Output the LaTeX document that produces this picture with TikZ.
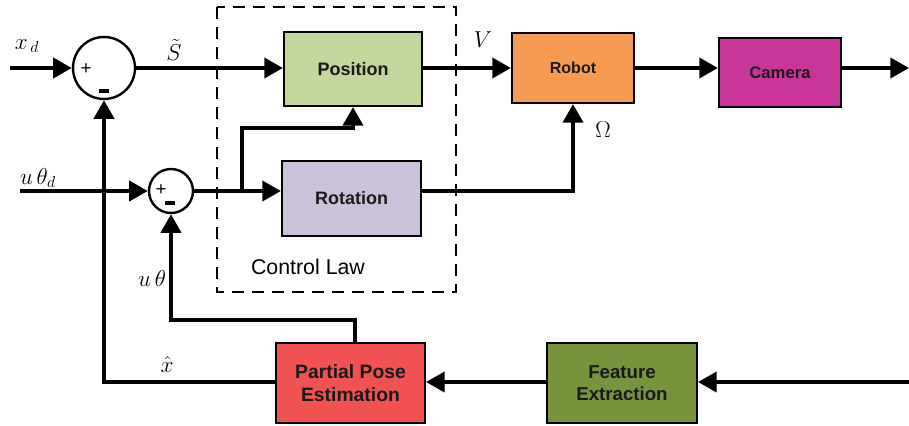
\documentclass[tikz,border=0pt]{standalone}
\usepackage{fontspec}
\setmainfont{Liberation Sans}
\usetikzlibrary{arrows.meta,calc}
\definecolor{posfill}{HTML}{C3D69B}
\definecolor{rotfill}{HTML}{CCC1DA}
\definecolor{robfill}{HTML}{F79B52}
\definecolor{camfill}{HTML}{C9359A}
\definecolor{ppefill}{HTML}{F05252}
\definecolor{feafill}{HTML}{77933C}
\definecolor{boxtext}{HTML}{1A1A1A}
\newcommand{\minussign}{\rule{7.5pt}{2.8pt}}
\tikzset{
  blockbox/.style={draw=black, line width=1.6pt, text=boxtext, font=\bfseries,
    align=center, inner sep=0pt},
  sumnode/.style={draw=black, circle, line width=1.8pt, inner sep=0pt},
  sig/.style={line width=3pt, -{Triangle[length=14pt,width=15pt]}},
  lbl/.style={inner sep=0pt, font=\fontsize{17}{18}\selectfont},
  signs/.style={inner sep=0pt, font=\fontsize{14}{14}\selectfont}
}
\begin{document}
\begin{tikzpicture}[x=0.75pt,y=-0.75pt]
  \useasboundingbox (0,0) rectangle (909,425);

  % control law frame
  \draw[line width=1.2pt, dash pattern=on 9pt off 6pt] (217,7) rectangle (456,292);
  \node[inner sep=0pt, font=\fontsize{16}{18}\selectfont] (law) at (308,267) {Control Law};

  % blocks
  \node[blockbox, fill=posfill, minimum width=103.5pt, minimum height=55.5pt,
        font=\fontsize{13.5}{15}\selectfont\bfseries] (pos) at (353,69) {Position};
  \node[blockbox, fill=rotfill, minimum width=104.25pt, minimum height=56.25pt,
        font=\fontsize{13.5}{15}\selectfont\bfseries] (rot) at (351.5,198.5) {Rotation};
  \node[blockbox, fill=robfill, minimum width=91.5pt, minimum height=52.5pt,
        font=\fontsize{12}{14}\selectfont\bfseries] (rob) at (573,68) {Robot};
  \node[blockbox, fill=camfill, minimum width=91.5pt, minimum height=51.75pt,
        font=\fontsize{12.5}{14}\selectfont\bfseries] (cam) at (780,72.5) {Camera};
  \node[blockbox, fill=feafill, minimum width=112.5pt, minimum height=60pt,
        font=\fontsize{14}{17}\selectfont\bfseries] (fea) at (622,383) {Feature\\Extraction};
  \node[blockbox, fill=ppefill, minimum width=111.75pt, minimum height=60pt,
        font=\fontsize{14.5}{17.5}\selectfont\bfseries] (ppe) at (350.5,383) {Partial Pose\\Estimation};

  % summing junctions
  \node[sumnode, minimum size=46.5pt] (s1) at (104,68) {};
  \node[sumnode, minimum size=33pt] (s2) at (171,191) {};
  \node[signs] (s1p) at (86,69) {+};
  \node[inner sep=0pt] (s1m) at (104,91) {\minussign};
  \node[signs] (s2p) at (161,190) {+};
  \node[inner sep=0pt] (s2m) at (170,203) {\minussign};

  % auxiliary points
  \coordinate (xin) at (10,68);
  \coordinate (uin) at (20,191);
  \coordinate (br) at (242,191);
  \coordinate (brtop) at (242,128);
  \coordinate (poselbow) at (353,128);
  \coordinate (rotout) at (rot.east |- br);
  \coordinate (omcorner) at (573,191);
  \coordinate (out) at (909,68);
  \coordinate (fin) at (909,382);
  \coordinate (fbcorner) at (104,382);
  \coordinate (ppetop) at (355,343);
  \coordinate (uthtop) at (355,320);
  \coordinate (uthcorner) at (171,320);

  % forward path
  \draw[sig] (xin) -- (s1.west);
  \draw[sig] (s1.east) -- (s1.east -| pos.west);
  \draw[sig] (uin) -- (s2.west);
  \draw[sig] (s2.east) -- (br -| rot.west);
  \draw[sig] (br) -- (brtop) -- (poselbow) -- (pos.south);
  \draw[sig] (s1.east -| pos.east) -- (s1.east -| rob.west);
  \draw[sig] (rotout) -- (omcorner) -- (rob.south);
  \draw[sig] (rob.east) -- (rob.east -| cam.west);
  \draw[sig] (rob.east -| cam.east) -- (out);

  % feedback path
  \draw[sig] (fin) -- (fea.east |- fin);
  \draw[sig] (fea.west |- fin) -- (ppe.east |- fin);
  \draw[sig] (ppe.west |- fin) -- (fbcorner) -- (s1.south);
  \draw[sig] (ppetop) -- (uthtop) -- (uthcorner) -- (s2.south);

  % signal labels
  \node[lbl] (lxd) at (27,46) {$x_{\,d}$};
  \node[lbl] (ls) at (174,50) {$\tilde{S}$};
  \node[lbl] (lutd) at (38,178) {$u\,\theta_{d}$};
  \node[lbl] (lut) at (152,278) {$u\,\theta$};
  \node[lbl] (lv) at (483,40) {$V$};
  \node[lbl, font=\fontsize{18}{18}\selectfont] (lom) at (603,130) {$\Omega$};
  \node[lbl] (lxh) at (167,364) {$\hat{x}$};
\end{tikzpicture}
\end{document}
